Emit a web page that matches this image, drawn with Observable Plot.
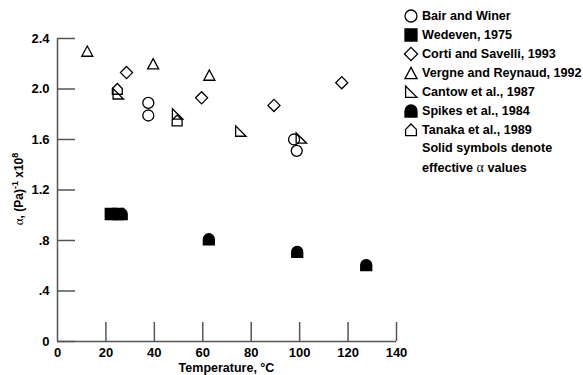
<!DOCTYPE html>
<html><head><meta charset="utf-8">
<script src="https://cdn.jsdelivr.net/npm/d3@7"></script>
<script src="https://cdn.jsdelivr.net/npm/@observablehq/plot@0.6"></script>
<style>
body{margin:0;background:#fff;}
#wrap{position:relative;width:583px;height:375px;overflow:hidden;font-family:"Liberation Sans",Arial,sans-serif;background:#fff;}
#legend{position:absolute;left:403px;top:6px;font-weight:bold;font-size:12.6px;color:#000;}
.row{height:19px;display:flex;align-items:center;white-space:nowrap;}
.row svg{width:16px;height:16px;margin-right:3px;flex:none;}
.note{display:block;height:19px;line-height:19px;padding-left:19px;white-space:pre;}
.gr{font-family:"Liberation Serif","DejaVu Serif",serif;font-weight:normal;font-size:14px;}
</style></head><body><div id="wrap"><div id="legend"></div></div>
<script>
// ---- data (temperature °C, alpha x1e8 1/Pa) ----
const bairT = [37.5, 37.5, 97.7, 98.8];
const bairA = [1.89, 1.79, 1.60, 1.51];
const wedevenT = [22, 25];
const wedevenA = [1.01, 1.01];
const cortiT = [28.5, 59.5, 89.4, 117.4];
const cortiA = [2.13, 1.93, 1.87, 2.05];
const vergneT = [12.3, 39.5, 62.7];
const vergneA = [2.30, 2.20, 2.11];
const cantowT = [25, 49.5, 75.6, 100.6];
const cantowA = [1.96, 1.80, 1.665, 1.61];
const spikesT = [26.5, 62.5, 99, 127.5];
const spikesA = [1.01, 0.81, 0.71, 0.605];
const tanakaT = [24.7, 49.4];
const tanakaA = [2.0, 1.75];

const xTicks = [0, 20, 40, 60, 80, 100, 120, 140];
const xInnerTicks = [20, 40, 60, 80, 100, 120, 140];
const yTicks = [0, 0.4, 0.8, 1.2, 1.6, 2.0, 2.4];
const yTickLabels = ["0", ".4", ".8", "1.2", "1.6", "2.0", "2.4"];

const legendNames = ["Bair and Winer", "Wedeven, 1975", "Corti and Savelli, 1993",
  "Vergne and Reynaud, 1992", "Cantow et al., 1987", "Spikes et al., 1984", "Tanaka et al., 1989"];
const noteLines = ["Solid symbols denote", "effective α values"];

// ---- custom symbols ----
const R = s => Math.sqrt(s / Math.PI);
const symCircle = {draw(c, s){ const r = R(s); c.moveTo(r, 0); c.arc(0, 0, r, 0, 2 * Math.PI); c.closePath(); }};
const symSquare = {draw(c, s){ const r = R(s); c.moveTo(-r, -r); c.lineTo(r, -r); c.lineTo(r, r); c.lineTo(-r, r); c.closePath(); }};
const symDiamond = {draw(c, s){ const r = R(s) * 1.1; c.moveTo(0, -r); c.lineTo(r, 0); c.lineTo(0, r); c.lineTo(-r, 0); c.closePath(); }};
const symTriangle = {draw(c, s){ const r = R(s); c.moveTo(0, -0.93 * r); c.lineTo(r, 0.93 * r); c.lineTo(-r, 0.93 * r); c.closePath(); }};
const symCantow = {draw(c, s){ const r = R(s); c.moveTo(-0.9 * r, -r); c.lineTo(-0.9 * r, 0.9 * r); c.lineTo(r, 0.9 * r); c.closePath(); }};
const symTanaka = {draw(c, s){ const r = R(s); c.moveTo(-0.9 * r, 0.95 * r); c.lineTo(0.9 * r, 0.95 * r); c.lineTo(0.9 * r, -0.1 * r); c.lineTo(0, -r); c.lineTo(-0.9 * r, -0.1 * r); c.closePath(); }};
const symSpikes = {draw(c, s){ const r = R(s); c.moveTo(-r, r); c.lineTo(-r, 0); c.arc(0, 0, r, Math.PI, 2 * Math.PI); c.lineTo(r, r); c.closePath(); }};

const series = [
  {name: legendNames[0], T: bairT, A: bairA, symbol: symCircle, filled: false},
  {name: legendNames[1], T: wedevenT, A: wedevenA, symbol: symSquare, filled: true},
  {name: legendNames[2], T: cortiT, A: cortiA, symbol: symDiamond, filled: false},
  {name: legendNames[3], T: vergneT, A: vergneA, symbol: symTriangle, filled: false},
  {name: legendNames[4], T: cantowT, A: cantowA, symbol: symCantow, filled: false},
  {name: legendNames[5], T: spikesT, A: spikesA, symbol: symSpikes, filled: true},
  {name: legendNames[6], T: tanakaT, A: tanakaA, symbol: symTanaka, filled: false}
];

const axisColor = "#555";

const chart = Plot.plot({
  width: 583, height: 375,
  marginLeft: 57, marginRight: 187, marginTop: 38, marginBottom: 34,
  x: {domain: [0, 140]},
  y: {domain: [0, 2.4]},
  style: {fontFamily: "'Liberation Sans', Arial, sans-serif", fontSize: "13px", fontWeight: "bold", color: "#000", background: "transparent"},
  marks: [
    Plot.ruleX([0], {stroke: axisColor, strokeWidth: 1.5}),
    Plot.ruleY([0], {stroke: axisColor, strokeWidth: 1.5}),
    Plot.axisY(yTicks, {tickSize: 0, tickPadding: 8, label: null, tickFormat: d => yTickLabels[yTicks.indexOf(d)]}),
    Plot.axisY(yTicks, {tickSize: -18, tickFormat: () => "", label: null, stroke: axisColor, strokeWidth: 1.5}),
    Plot.axisX(xTicks, {tickSize: 0, tickPadding: 6, label: null, tickFormat: d => String(d)}),
    Plot.axisX(xInnerTicks, {tickSize: -19, tickFormat: () => "", label: null, stroke: axisColor, strokeWidth: 1.5}),
    ...series.map(s => Plot.dot(s.A, {
      x: s.T, y: s.A, r: 5.5, symbol: s.symbol,
      stroke: "black", strokeWidth: 1.3,
      fill: s.filled ? "black" : "none"
    }))
  ]
});
document.getElementById("wrap").prepend(chart);

// axis titles
const svg = d3.select(chart);
svg.append("text")
  .attr("x", 226.5).attr("y", 372)
  .attr("text-anchor", "middle")
  .attr("font-size", 12.5).attr("font-weight", "bold")
  .attr("fill", "#000")
  .text("Temperature, °C");
const yl = svg.append("text")
  .attr("transform", "translate(23,189) rotate(-90)")
  .attr("text-anchor", "middle")
  .attr("font-size", 12).attr("font-weight", "bold").attr("fill", "#000");
yl.append("tspan").attr("font-family", "'Liberation Serif', serif").attr("font-weight", "normal").attr("font-size", 13).text("α");
yl.append("tspan").text(", (Pa)");
yl.append("tspan").attr("font-size", 9).attr("dy", -5).text("-1");
yl.append("tspan").attr("dy", 5).text(" x10");
yl.append("tspan").attr("font-size", 9).attr("dy", -5).text("8");

// legend
const leg = d3.select("#legend");
series.forEach(s => {
  const row = leg.append("div").attr("class", "row");
  const sv = row.append("svg").attr("viewBox", "-8 -8 16 16");
  sv.append("path")
    .attr("d", d3.symbol(s.symbol, Math.PI * 6 * 6)())
    .attr("fill", s.filled ? "black" : "none")
    .attr("stroke", "black").attr("stroke-width", 1.3);
  row.append("span").text(s.name);
});
leg.append("div").attr("class", "note").text(noteLines[0]);
const n2 = leg.append("div").attr("class", "note");
const parts = noteLines[1].split("α");
n2.append("span").text(parts[0]);
n2.append("span").attr("class", "gr").text("α");
n2.append("span").text(parts[1]);
</script>
</body></html>
